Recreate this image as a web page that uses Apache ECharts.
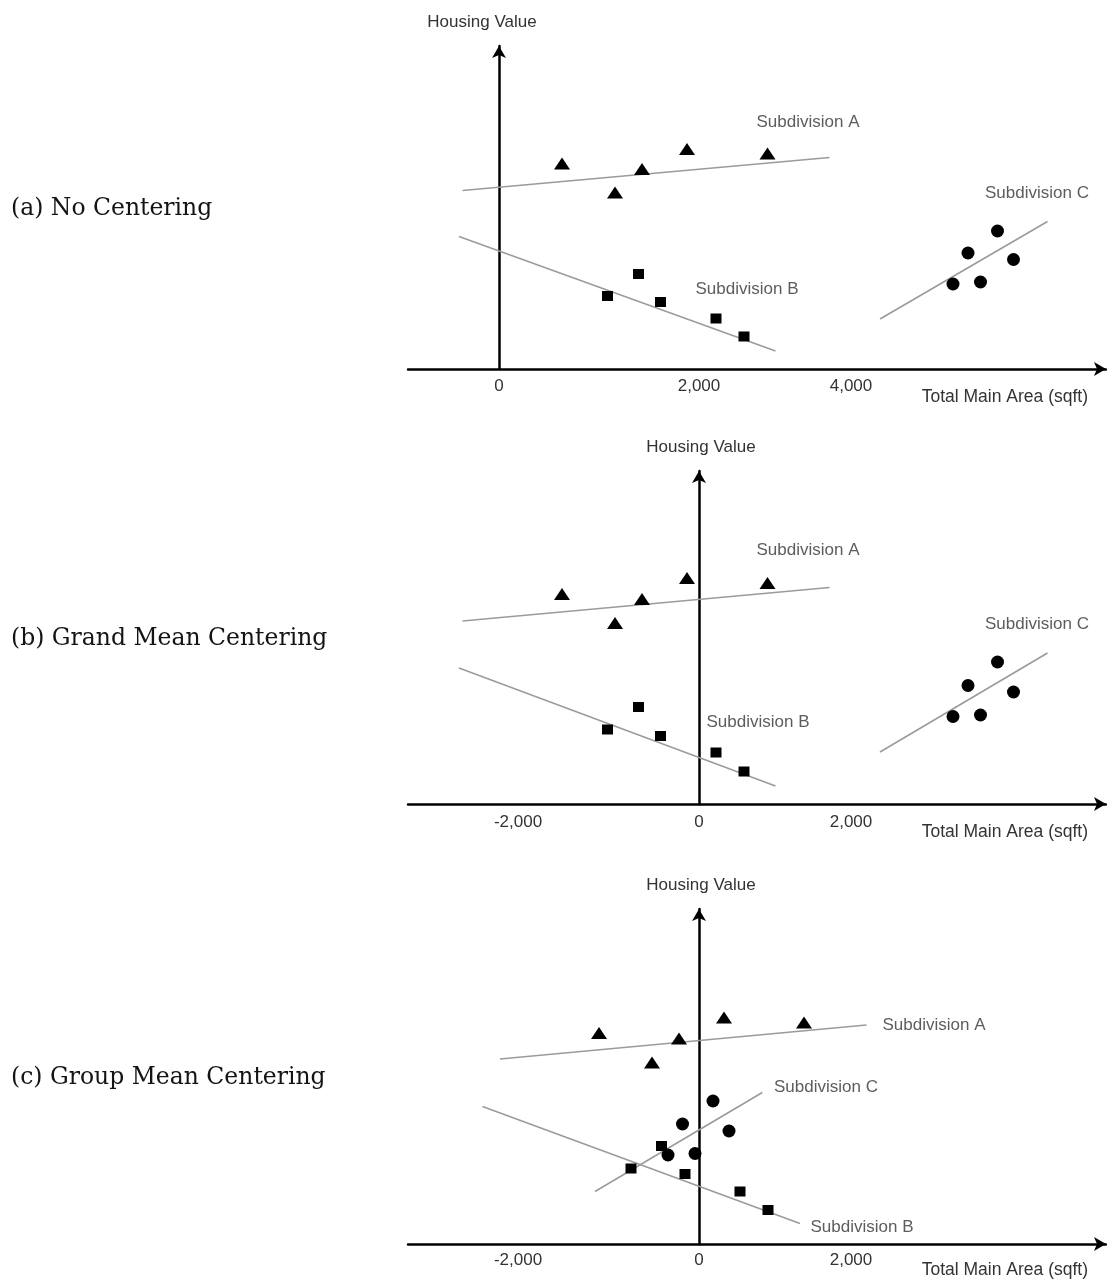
<!DOCTYPE html>
<html><head><meta charset="utf-8">
<script src="https://cdn.jsdelivr.net/npm/echarts@6/dist/echarts.min.js"></script>
<style>html,body{margin:0;padding:0;background:#fff}#c{width:1107px;height:1281px}</style>
</head><body><div id="c"></div>
<script>
// ---------- data (x: sqft, y: housing value, arbitrary units) ----------
const panelTitles = ['(a) No Centering', '(b) Grand Mean Centering', '(c) Group Mean Centering'];
const groupNames = ['Subdivision A', 'Subdivision B', 'Subdivision C'];
const xName = 'Total Main Area (sqft)';
const yName = 'Housing Value';

const tickLabelsA = ['0', '2,000', '4,000'];
const tickValuesA = [0, 2000, 3520];
const tickLabelsB = ['-2,000', '0', '2,000'];
const tickValuesB = [-1810, 0, 1520];
const tickLabelsC = ['-2,000', '0', '2,000'];
const tickValuesC = [-1810, 0, 1520];

// (a) No centering
const a_A = [[630, 205.5], [1160, 176.5], [1430, 200], [1880, 220], [2685, 215.5]];
const a_B = [[1085, 73], [1395, 95], [1615, 67], [2170, 50.5], [2450, 32.5]];
const a_C = [[4540, 85], [4690, 116], [4815, 87], [4985, 138], [5145, 109.5]];
const a_fitA = [[-365, 178.5], [3305, 211.5]];
const a_fitB = [[-400, 132.5], [2765, 18]];
const a_fitC = [[3810, 50], [5485, 147.5]];

// (b) Grand mean centering
const b_A = [[-1370, 210], [-840, 181], [-570, 205], [-120, 226], [685, 221]];
const b_B = [[-915, 74.5], [-605, 97], [-385, 68], [170, 51.5], [450, 32.5]];
const b_C = [[2540, 87.5], [2690, 118.5], [2815, 89], [2985, 142], [3145, 112]];
const b_fitA = [[-2365, 183], [1305, 216.5]];
const b_fitB = [[-2400, 136], [765, 18]];
const b_fitC = [[1810, 52], [3485, 151]];

// (c) Group mean centering
const c_A = [[-1000, 211], [-470, 181.5], [-200, 205.5], [250, 226.5], [1050, 221.5]];
const c_B = [[-375, 98], [-680, 75.5], [-140, 70], [410, 52.5], [690, 34]];
const c_C = [[140, 143], [-165, 120], [300, 113], [-310, 89], [-40, 90.5]];
const c_fitA = [[-1990, 185], [1675, 219]];
const c_fitB = [[-2165, 137.5], [1010, 20.5]];
const c_fitC = [[-1040, 52.5], [633, 151.5]];

// ---------- layout / styling ----------
const SANS = 'Liberation Sans';
const SERIF = 'DejaVu Serif';
const TXT = '#333333';
const arrow = 'path://M7,0L14,12L7,9L0,12Z';

const panels = [
  {grid: {left: 408, width: 698, top: 46, height: 323}, xMin: -910, xMax: 6070,
   ticks: tickValuesA, tickLabels: tickLabelsA, pts: [a_A, a_B, a_C], fits: [a_fitA, a_fitB, a_fitC],
   notes: [[3090, 247], [2480, 80], [5380, 176]], yNamePad: [0, 34, 0, 0], titleTop: 197, labMargin: 9, xNameDy: 19},
  {grid: {left: 408, width: 698, top: 471, height: 333}, xMin: -2910, xMax: 4070,
   ticks: tickValuesB, tickLabels: tickLabelsB, pts: [b_A, b_B, b_C], fits: [b_fitA, b_fitB, b_fitC],
   notes: [[1090, 254], [590, 82], [3380, 180]], yNamePad: [0, 0, 0, 4], titleTop: 627, labMargin: 10, xNameDy: 19},
  {grid: {left: 408, width: 698, top: 909, height: 335}, xMin: -2910, xMax: 4070,
   ticks: tickValuesC, tickLabels: tickLabelsC, pts: [c_A, c_B, c_C], fits: [c_fitA, c_fitB, c_fitC],
   notes: [[2350, 219], [1630, 17], [1270, 157]], yNamePad: [0, 0, 0, 4], titleTop: 1066, labMargin: 8, xNameDy: 17}
];

const syms = ['triangle', 'rect', 'circle'];
const symSizes = [[16, 12], [11, 10], 13];

const titles = [];
panels.forEach((p, i) => {
  titles.push({
    text: panelTitles[i], left: 11, top: p.titleTop, padding: 0,
    textStyle: {fontFamily: SERIF, fontSize: 23.5, fontWeight: 'normal', color: '#141414'}
  });
  titles.push({
    text: xName, right: 19, top: p.grid.top + p.grid.height + p.xNameDy, padding: 0,
    textStyle: {fontFamily: SANS, fontSize: 17.5, fontWeight: 'normal', color: TXT}
  });
});

const option = {
  animation: false,
  backgroundColor: '#fff',
  title: titles,
  grid: panels.map(p => p.grid),
  xAxis: panels.map((p, i) => ({
    type: 'value', gridIndex: i, min: p.xMin, max: p.xMax,
    splitLine: {show: false}, axisTick: {show: false},
    axisLine: {show: true, onZero: true, symbol: ['none', arrow], symbolSize: [14, 12], symbolOffset: [0, -6],
      lineStyle: {color: '#000', width: 2.5}},
    axisLabel: {customValues: p.ticks, formatter: v => p.tickLabels[p.ticks.indexOf(v)] ?? '',
      margin: p.labMargin, color: TXT, fontFamily: SANS, fontSize: 17}
  })),
  yAxis: panels.map((p, i) => ({
    type: 'value', gridIndex: i, min: 0, max: p.grid.height,
    splitLine: {show: false}, axisTick: {show: false}, axisLabel: {show: false},
    axisLine: {show: true, onZero: true, symbol: ['none', arrow], symbolSize: [14, 12], symbolOffset: [0, -6],
      lineStyle: {color: '#000', width: 2.5}},
    name: yName, nameLocation: 'end', nameGap: 15,
    nameTextStyle: {color: TXT, fontFamily: SANS, fontSize: 17, padding: p.yNamePad}
  })),
  series: []
};

panels.forEach((p, i) => {
  for (let g = 0; g < 3; g++) {
    option.series.push({
      type: 'line', xAxisIndex: i, yAxisIndex: i, data: p.fits[g], symbol: 'none',
      lineStyle: {color: '#9b9b9b', width: 1.6}, silent: true, z: 2
    });
    option.series.push({
      type: 'scatter', xAxisIndex: i, yAxisIndex: i, data: p.pts[g], symbol: syms[g],
      symbolSize: symSizes[g], itemStyle: {color: '#000', opacity: 1}, z: 3
    });
  }
  option.series.push({
    type: 'scatter', xAxisIndex: i, yAxisIndex: i, symbolSize: 1,
    itemStyle: {color: 'rgba(0,0,0,0)'}, silent: true, z: 4,
    data: p.notes.map((n, g) => ({value: n, name: groupNames[g]})),
    label: {show: true, position: 'inside', formatter: '{b}', color: TXT, fontFamily: SANS, fontSize: 17}
  });
});

const chart = echarts.init(document.getElementById('c'), null, {renderer: 'canvas'});
chart.setOption(option);
</script>
</body></html>
